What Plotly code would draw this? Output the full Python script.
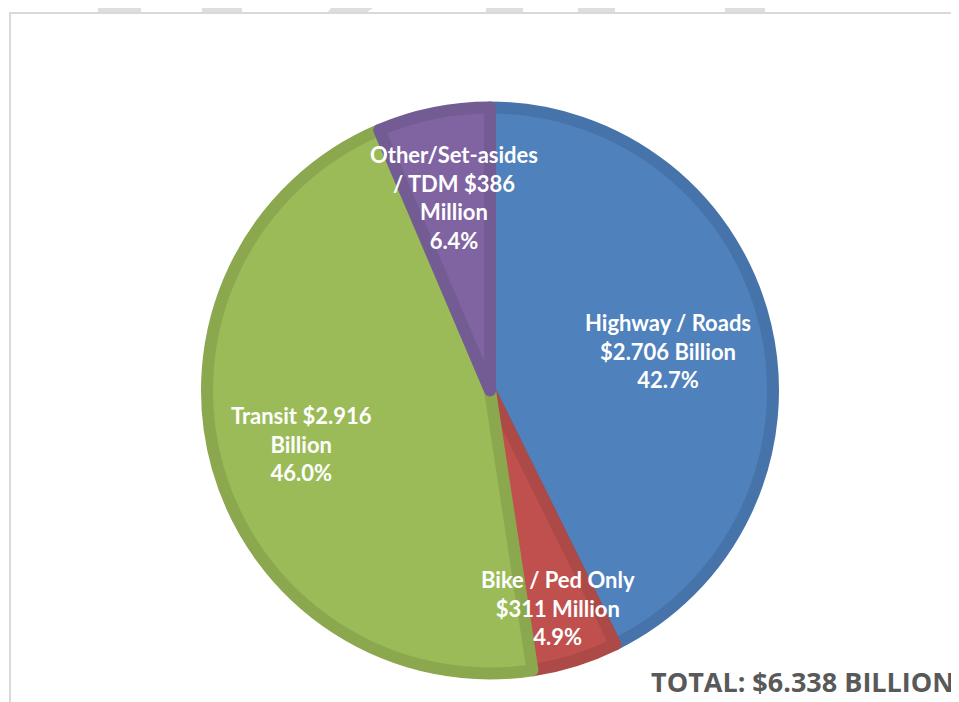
import plotly.graph_objects as go

# ---- data ----
categories = ["Highway / Roads", "Bike / Ped Only", "Transit", "Other/Set-asides / TDM"]
amount_labels = ["$2.706 Billion", "$311 Million", "$2.916 Billion", "$386 Million"]
percents = [42.7, 4.9, 46.0, 6.4]
label_lines = [
    ["Highway / Roads", "$2.706 Billion", "42.7%"],
    ["Bike / Ped Only", "$311 Million", "4.9%"],
    ["Transit $2.916", "Billion", "46.0%"],
    ["Other/Set-asides", "/ TDM $386", "Million", "6.4%"],
]
total_label = "TOTAL: $6.338 BILLION"

fill_colors = ["#4F81BD", "#C0504D", "#9BBB59", "#8064A2"]
edge_colors = ["#4674AA", "#AD4946", "#8BA84F", "#735B93"]

# page has an 8px body margin; figure is sized to fill the rest of the window
OFF = 8
W, H = 959 - OFF, 702 - OFF


def px(x):
    return (x - OFF) / W


def py(y):
    return 1 - (y - OFF) / H


cx, cy = 490, 390.5          # pie centre (screen pixels)
lw = 12
r = 289 - lw / 2

fig = go.Figure()
fig.add_trace(go.Pie(
    labels=categories,
    values=percents,
    sort=False,
    direction="clockwise",
    rotation=0,
    marker=dict(colors=fill_colors, line=dict(color=edge_colors, width=lw)),
    textinfo="none",
    hoverinfo="label+percent",
    showlegend=False,
    domain=dict(x=[px(cx - r), px(cx + r)],
                y=[py(cy + r), py(cy - r)]),
))

# label text blocks (centre positions, screen pixels)
label_pos = [(668, 351), (558, 608), (301, 444), (454, 197)]
for lines, (lx, ly) in zip(label_lines, label_pos):
    fig.add_annotation(
        x=px(lx), y=py(ly), xref="paper", yref="paper",
        text="<br>".join(lines), showarrow=False,
        font=dict(family="Lato", size=22, color="white", weight="bold"),
        align="center", xanchor="center", yanchor="middle",
    )

fig.add_annotation(
    x=px(956), y=py(681), xref="paper", yref="paper",
    text=total_label, showarrow=False,
    font=dict(family="Open Sans", size=27, color="#595959", weight="bold"),
    xanchor="right", yanchor="middle",
)

shapes = []
# frame lines
shapes.append(dict(type="line", xref="paper", yref="paper",
                   x0=px(10), x1=1, y0=py(13), y1=py(13),
                   line=dict(color="#D9D9D9", width=2)))
shapes.append(dict(type="line", xref="paper", yref="paper",
                   x0=px(10), x1=px(10), y0=0, y1=py(12),
                   line=dict(color="#D9D9D9", width=2)))
# watermark fragments (only the part inside the figure is visible)
wm = "#DEDEDE"
for x0, x1 in [(98, 141), (202, 242), (486, 523), (578, 615), (725, 765)]:
    shapes.append(dict(type="rect", xref="paper", yref="paper",
                       x0=px(x0), x1=px(x1), y0=py(12), y1=1,
                       fillcolor=wm, line=dict(width=0), layer="below"))
shapes.append(dict(type="path", xref="paper", yref="paper",
                   path=f"M {px(331)} 1 L {px(373)} 1 L {px(367)} {py(12)} L {px(328)} {py(12)} Z",
                   fillcolor=wm, line=dict(width=0), layer="below"))

fig.update_layout(
    width=W, height=H,
    margin=dict(l=0, r=0, t=0, b=0),
    paper_bgcolor="white", plot_bgcolor="white",
    shapes=shapes,
)

fig.write_html("out.html")
